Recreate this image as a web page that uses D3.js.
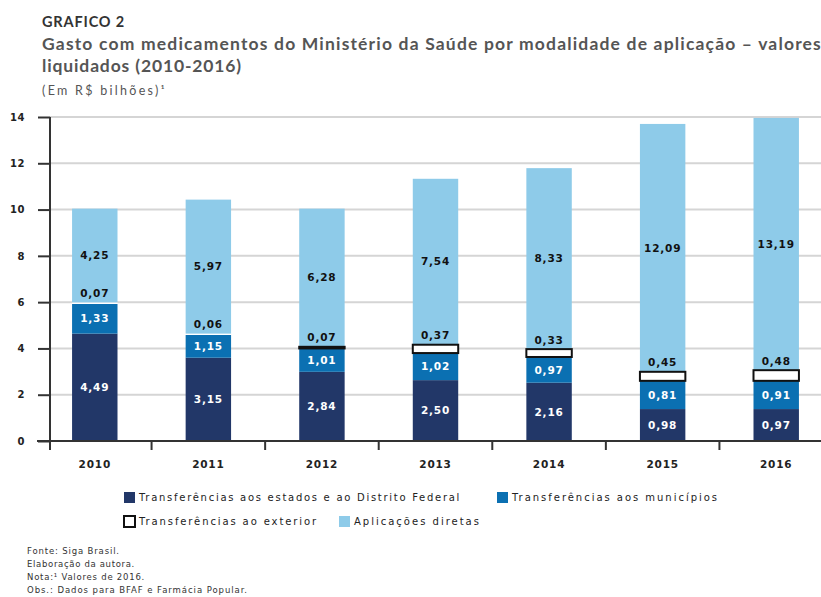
<!DOCTYPE html>
<html>
<head>
<meta charset="utf-8">
<script src="https://cdn.jsdelivr.net/npm/d3@7"></script>
<style>
  body { margin: 0; background: #fff; }
  svg { display: block; }
</style>
</head>
<body>
<svg id="chart"></svg>
<script>
// data (R$ bilhões) -- segment heights as drawn in the original
const years = ["2010", "2011", "2012", "2013", "2014", "2015", "2016"];
const estados = [4.64, 3.60, 2.99, 2.63, 2.52, 1.38, 1.38];
const municipios = [1.28, 0.98, 1.01, 1.17, 1.11, 1.22, 1.22];
const exterior = [0.07, 0.06, 0.07, 0.36, 0.34, 0.39, 0.46];
const diretas = [4.05, 5.79, 5.97, 7.17, 7.82, 10.71, 10.90];

// labels printed on the original bars
const estadosText = ["4,49", "3,15", "2,84", "2,50", "2,16", "0,98", "0,97"];
const municipiosText = ["1,33", "1,15", "1,01", "1,02", "0,97", "0,81", "0,91"];
const exteriorText = ["0,07", "0,06", "0,07", "0,37", "0,33", "0,45", "0,48"];
const diretasText = ["4,25", "5,97", "6,28", "7,54", "8,33", "12,09", "13,19"];

const yTicks = [0, 2, 4, 6, 8, 10, 12, 14];
const seriesNames = [
  "Transferências aos estados e ao Distrito Federal",
  "Transferências aos municípios",
  "Transferências ao exterior",
  "Aplicações diretas"
];
const footNotes = [
  "Fonte: Siga Brasil.",
  "Elaboração da autora.",
  "Nota:¹ Valores de 2016.",
  "Obs.: Dados para BFAF e Farmácia Popular."
];

const keys = ["estados", "municipios", "exterior", "diretas"];
const colors = ["#223768", "#0b70b2", "#ffffff", "#8ecbe9"];
const textColors = ["#ffffff", "#ffffff", "#111111", "#111111"];
const labelText = [estadosText, municipiosText, exteriorText, diretasText];

const width = 821, height = 597;
const chartFont = "DejaVu Sans, Verdana, sans-serif";
const titleFont = "Lato, Open Sans, sans-serif";

const svg = d3.select("#chart").attr("width", width).attr("height", height);

// stretch a text's letter spacing so it covers a given width
function spreadTo(sel, target) {
  sel.each(function(d, i) {
    const t = typeof target === "function" ? target(d, i) : target;
    const n = this.getNumberOfChars();
    const w = this.getComputedTextLength();
    d3.select(this).attr("letter-spacing", ((t - w) / n).toFixed(2));
  });
}

// titles
svg.append("text").attr("x", 42).attr("y", 27)
  .attr("font-family", titleFont).attr("font-weight", 700).attr("font-size", 14.5)
  .attr("fill", "#333").text("GRAFICO 2")
  .call(spreadTo, 83);
svg.append("text").attr("x", 42).attr("y", 49.5)
  .attr("font-family", titleFont).attr("font-weight", 700).attr("font-size", 17.5)
  .attr("fill", "#555").text("Gasto com medicamentos do Ministério da Saúde por modalidade de aplicação – valores")
  .call(spreadTo, 780);
svg.append("text").attr("x", 42).attr("y", 71.5)
  .attr("font-family", titleFont).attr("font-weight", 700).attr("font-size", 17.5)
  .attr("fill", "#555").text("liquidados (2010-2016)")
  .call(spreadTo, 200);
svg.append("text").attr("x", 42).attr("y", 95)
  .attr("font-family", titleFont).attr("font-size", 12.5)
  .attr("fill", "#555").text("(Em R$ bilhões)¹")
  .call(spreadTo, 125);

// scales
const x = d3.scaleBand().domain(years).range([38, 833]).paddingInner(0.6).paddingOuter(0.3);
const y = d3.scaleLinear().domain([0, 14]).range([441, 117]);

// gridlines
svg.append("g").selectAll("line")
  .data(yTicks.filter(d => d > 0))
  .join("line")
  .attr("x1", 50).attr("x2", width)
  .attr("y1", d => y(d)).attr("y2", d => y(d))
  .attr("stroke", "#d5d5d5").attr("stroke-width", 2);

// y axis
const yAxis = svg.append("g")
  .attr("transform", "translate(50,0)")
  .call(d3.axisLeft(y).tickValues(yTicks).tickSize(12).tickPadding(13).tickFormat(d3.format("d")));
yAxis.select(".domain").remove();
yAxis.selectAll(".tick line").attr("stroke", "#333").attr("stroke-width", 2);
yAxis.selectAll(".tick text")
  .attr("font-family", chartFont).attr("font-weight", 700).attr("font-size", 10)
  .attr("letter-spacing", 0.6)
  .attr("fill", "#222");

// stacked bars
const table = years.map((yr, i) => ({
  year: yr, estados: estados[i], municipios: municipios[i],
  exterior: exterior[i], diretas: diretas[i]
}));
const stacked = d3.stack().keys(keys)(table);

const layers = svg.append("g").selectAll("g")
  .data(stacked)
  .join("g")
  .attr("fill", (d, i) => colors[i]);

layers.selectAll("rect")
  .data(d => d)
  .join("rect")
  .attr("x", d => x(d.data.year))
  .attr("width", x.bandwidth())
  .attr("y", d => y(d[1]))
  .attr("height", d => y(d[0]) - y(d[1]));

// outline for the "exterior" boxes (the first two years show only a white gap)
svg.append("g").selectAll("rect")
  .data(stacked[2].filter((d, i) => i >= 2))
  .join("rect")
  .attr("x", d => x(d.data.year))
  .attr("width", x.bandwidth())
  .attr("y", d => y(d[1]))
  .attr("height", d => y(d[0]) - y(d[1]))
  .attr("fill", "#fff")
  .attr("stroke", "#111")
  .attr("stroke-width", 2);

// axis lines
svg.append("line").attr("x1", 37).attr("x2", width).attr("y1", y(0)).attr("y2", y(0))
  .attr("stroke", "#333").attr("stroke-width", 2);
svg.append("line").attr("x1", 50).attr("x2", 50).attr("y1", y(14)).attr("y2", y(0) + 9)
  .attr("stroke", "#333").attr("stroke-width", 2);

// category separators under the x axis
svg.append("g").selectAll("line")
  .data(years.slice(1))
  .join("line")
  .attr("x1", d => x(d) - x.step() * x.paddingInner() / 2)
  .attr("x2", d => x(d) - x.step() * x.paddingInner() / 2)
  .attr("y1", y(0)).attr("y2", y(0) + 9)
  .attr("stroke", "#333").attr("stroke-width", 2);

// year labels
const xAxis = svg.append("g")
  .attr("transform", `translate(0,${y(0)})`)
  .call(d3.axisBottom(x).tickSize(0).tickPadding(20));
xAxis.select(".domain").remove();
xAxis.selectAll(".tick text")
  .attr("font-family", chartFont).attr("font-weight", 700).attr("font-size", 10.5)
  .attr("letter-spacing", 0.8)
  .attr("fill", "#222");

// value labels
stacked.forEach((layer, k) => {
  svg.append("g").selectAll("text")
    .data(layer)
    .join("text")
    .attr("x", d => x(d.data.year) + x.bandwidth() / 2)
    .attr("y", d => k === 2 ? y(d[1]) - 9 : (y(d[0]) + y(d[1])) / 2)
    .attr("dy", "0.35em")
    .attr("text-anchor", "middle")
    .attr("font-family", chartFont).attr("font-weight", 700).attr("font-size", 10.5)
    .attr("letter-spacing", 0.8)
    .attr("fill", textColors[k])
    .text((d, i) => labelText[k][i]);
});

// legend
const legendPos = [[124, 492], [497, 492], [124, 516], [339, 516]];
const legendWidth = [322, 207, 179, 127];
const legend = svg.append("g").selectAll("g")
  .data(seriesNames)
  .join("g")
  .attr("transform", (d, i) => `translate(${legendPos[i][0]},${legendPos[i][1]})`);
legend.append("rect")
  .attr("width", 11).attr("height", 11)
  .attr("fill", (d, i) => colors[i])
  .attr("stroke", (d, i) => i === 2 ? "#111" : "none")
  .attr("stroke-width", 2);
legend.append("text")
  .attr("x", 15).attr("y", 5.5).attr("dy", "0.35em")
  .attr("font-family", chartFont).attr("font-size", 10)
  .attr("fill", "#222")
  .text(d => d)
  .call(spreadTo, (d, i) => legendWidth[i]);

// notes
const noteWidth = [93, 108, 118, 221];
svg.append("g").selectAll("text")
  .data(footNotes)
  .join("text")
  .attr("x", 27)
  .attr("y", (d, i) => 554 + i * 13)
  .attr("font-family", chartFont).attr("font-size", 8.5)
  .attr("fill", "#333")
  .text(d => d)
  .call(spreadTo, (d, i) => noteWidth[i]);
</script>
</body>
</html>
